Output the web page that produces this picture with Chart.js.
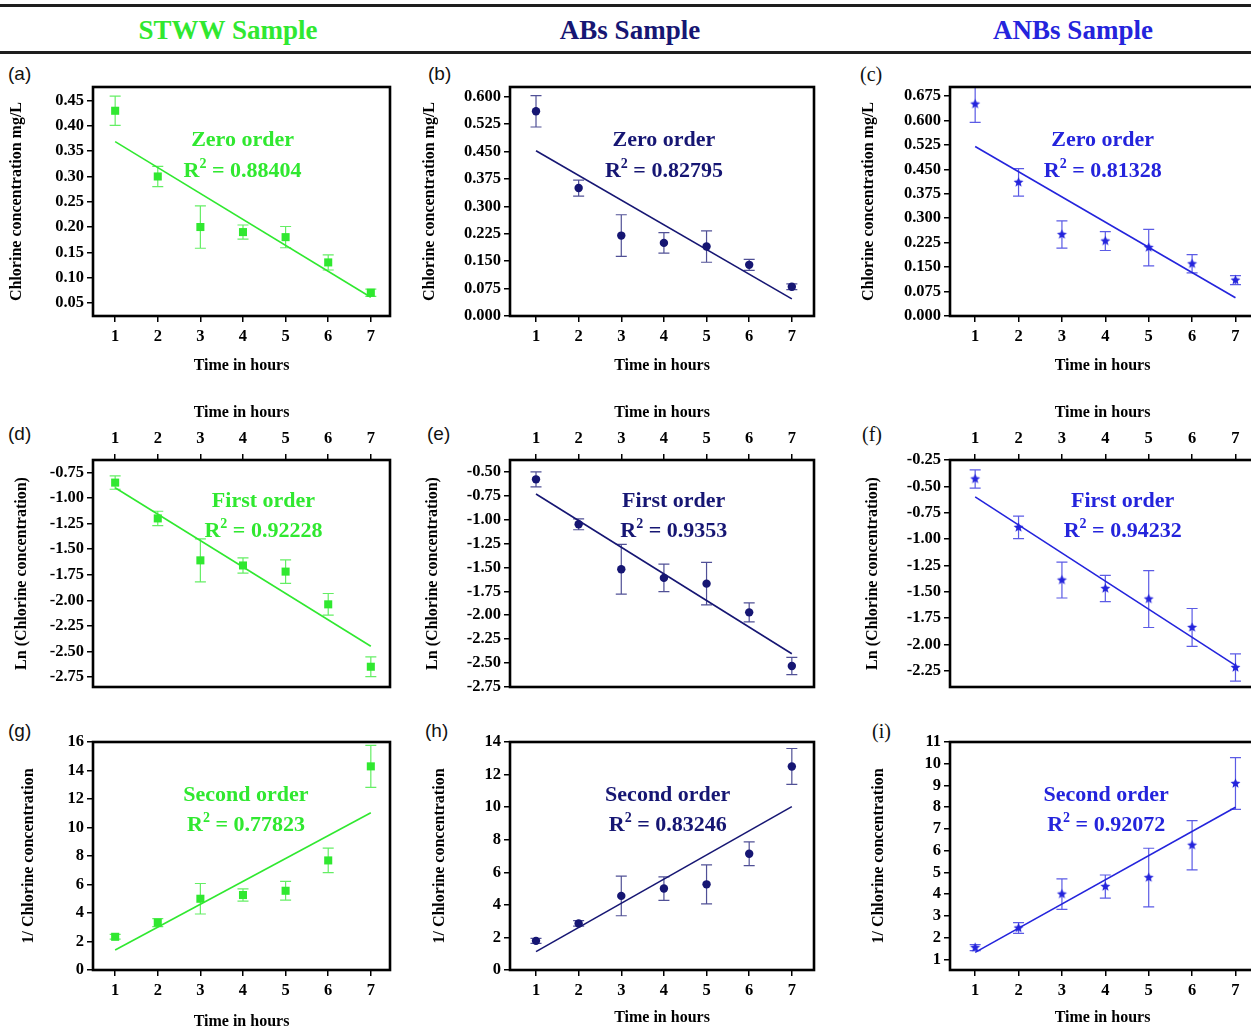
<!DOCTYPE html>
<html>
<head>
<meta charset="utf-8">
<script src="https://cdn.jsdelivr.net/npm/chart.js@4"></script>
<style>
  body { margin: 0; width: 1251px; height: 1031px; overflow: hidden; background: #fff; position: relative; }
  .rule { position: absolute; left: 0; width: 1251px; height: 3px; background: #1e1e1e; }
  .head { position: absolute; top: 15px; width: 400px; text-align: center; font: bold 27px "Liberation Serif", serif; }
  .tag { position: absolute; font: 19px "Liberation Sans", sans-serif; color: #111; }
  .tag.serif { font: 20px "Liberation Serif", serif; }
  .panel { position: absolute; }
</style>
</head>
<body>
<div class="rule" style="top:4px"></div>
<div class="rule" style="top:51px"></div>
<div id="heads"></div>
<div id="panels"></div>

<script>
const hours = [1, 2, 3, 4, 5, 6, 7];
const fitHours = [1, 7];

// zero order (concentration mg/L)
const stwwZero = [0.43, 0.30, 0.20, 0.19, 0.18, 0.13, 0.07];
const stwwZeroErr = [0.029, 0.02, 0.042, 0.014, 0.021, 0.015, 0.007];
const stwwZeroFit = [0.369, 0.061];
const absZero = [0.56, 0.35, 0.22, 0.20, 0.19, 0.14, 0.08];
const absZeroErr = [0.043, 0.022, 0.057, 0.028, 0.043, 0.015, 0.008];
const absZeroFit = [0.452, 0.047];
const anbsZero = [0.65, 0.41, 0.25, 0.23, 0.21, 0.16, 0.11];
const anbsZeroErr = [0.056, 0.042, 0.042, 0.029, 0.056, 0.028, 0.014];
const anbsZeroFit = [0.52, 0.056];

// first order (ln)
const stwwFirst = [-0.85, -1.20, -1.61, -1.66, -1.72, -2.04, -2.65];
const stwwFirstErr = [0.065, 0.07, 0.21, 0.074, 0.115, 0.106, 0.097];
const stwwFirstFit = [-0.90, -2.45];
const absFirst = [-0.58, -1.05, -1.52, -1.61, -1.67, -1.97, -2.53];
const absFirstErr = [0.078, 0.057, 0.26, 0.143, 0.222, 0.1, 0.09];
const absFirstFit = [-0.733, -2.403];
const anbsFirst = [-0.43, -0.89, -1.39, -1.47, -1.57, -1.84, -2.22];
const anbsFirstErr = [0.087, 0.107, 0.17, 0.125, 0.27, 0.18, 0.13];
const anbsFirstFit = [-0.60, -2.20];

// second order (1/C)
const stwwSecond = [2.33, 3.33, 5.0, 5.26, 5.56, 7.69, 14.29];
const stwwSecondErr = [0.17, 0.28, 1.07, 0.43, 0.66, 0.86, 1.48];
const stwwSecondFit = [1.40, 11.04];
const absSecond = [1.79, 2.86, 4.55, 5.0, 5.26, 7.14, 12.5];
const absSecondErr = [0.15, 0.17, 1.22, 0.72, 1.2, 0.73, 1.1];
const absSecondFit = [1.13, 10.03];
const anbsSecond = [1.54, 2.44, 4.0, 4.35, 4.76, 6.25, 9.09];
const anbsSecondErr = [0.14, 0.25, 0.7, 0.53, 1.35, 1.13, 1.19];
const anbsSecondFit = [1.32, 8.0];

// y tick labels
const ticksZeroStww = [0.05, 0.10, 0.15, 0.20, 0.25, 0.30, 0.35, 0.40, 0.45];
const ticksZeroAbs = [0, 0.075, 0.15, 0.225, 0.3, 0.375, 0.45, 0.525, 0.6];
const ticksZeroAnbs = [0, 0.075, 0.15, 0.225, 0.3, 0.375, 0.45, 0.525, 0.6, 0.675];
const ticksFirstStww = [-2.75, -2.5, -2.25, -2, -1.75, -1.5, -1.25, -1, -0.75];
const ticksFirstAbs = [-2.75, -2.5, -2.25, -2, -1.75, -1.5, -1.25, -1, -0.75, -0.5];
const ticksFirstAnbs = [-2.25, -2, -1.75, -1.5, -1.25, -1, -0.75, -0.5, -0.25];
const ticksSecondStww = [0, 2, 4, 6, 8, 10, 12, 14, 16];
const ticksSecondAbs = [0, 2, 4, 6, 8, 10, 12, 14];
const ticksSecondAnbs = [1, 2, 3, 4, 5, 6, 7, 8, 9, 10, 11];

const samples = ['STWW Sample', 'ABs Sample', 'ANBs Sample'];
const orders = ['Zero order', 'First order', 'Second order'];
const yTitles = ['Chlorine concentration mg/L', 'Ln (Chlorine concentration)', '1/ Chlorine concentration'];
const r2Zero = ['0.88404', '0.82795', '0.81328'];
const r2First = ['0.92228', '0.9353', '0.94232'];
const r2Second = ['0.77823', '0.83246', '0.92072'];
const tags = [['(a)', '(b)', '(c)'], ['(d)', '(e)', '(f)'], ['(g)', '(h)', '(i)']];

const colors = ['#30e830', '#161673', '#2424dc'];
const SERIF = '"Liberation Serif", serif';

// rows: order, cols: sample
const values = [[stwwZero, absZero, anbsZero], [stwwFirst, absFirst, anbsFirst], [stwwSecond, absSecond, anbsSecond]];
const errors = [[stwwZeroErr, absZeroErr, anbsZeroErr], [stwwFirstErr, absFirstErr, anbsFirstErr], [stwwSecondErr, absSecondErr, anbsSecondErr]];
const fits = [[stwwZeroFit, absZeroFit, anbsZeroFit], [stwwFirstFit, absFirstFit, anbsFirstFit], [stwwSecondFit, absSecondFit, anbsSecondFit]];
const yTicks = [[ticksZeroStww, ticksZeroAbs, ticksZeroAnbs], [ticksFirstStww, ticksFirstAbs, ticksFirstAnbs], [ticksSecondStww, ticksSecondAbs, ticksSecondAnbs]];
const r2s = [r2Zero, r2First, r2Second];

// layout
const cols = [
  { left: 0, width: 410, yW: 93, xMin: 0.48, xMax: 7.45, padR: 20 },
  { left: 415, width: 420, yW: 95, xMin: 0.39, xMax: 7.52, padR: 21 },
  { left: 850, width: 420, yW: 100, xMin: 0.42, xMax: 7.45, padR: 15 }
];
const rows = [
  { top: 60, height: 330, padT: 27, padB: 0, xPos: 'bottom', xH: 74, dy: [53, 84], tagTop: 63 },
  { top: 395, height: 305, padT: 0, padB: 13, xPos: 'top', xH: 65, dy: [41, 71], tagTop: 423 },
  { top: 700, height: 331, padT: 42, padB: 0, xPos: 'bottom', xH: 61, dy: [53, 83], tagTop: 720 }
];
const yRange = [
  [[0.024, 0.477], [0, 0.6265], [0, 0.7025]],
  [[-2.848, -0.629], [-2.75, -0.378], [-2.405, -0.25]],
  [[0, 16], [0, 14], [0.508, 11]]
];
const decimals = [[2, 3, 3], [2, 2, 2], [0, 0, 0]];
const yTitlePad = [[7.4, 5.4, 9.7], [12.1, 8.7, 13.1], [19.7, 15.4, 19.7]];
const xTitlePad = [
  [{ top: 0, bottom: 15 }, { top: 0, bottom: 15 }, { top: 0, bottom: 15 }],
  [{ top: 8.4, bottom: 0 }, { top: 8.4, bottom: 0 }, { top: 8.4, bottom: 0 }],
  [{ top: 0, bottom: 0 }, { top: 0, bottom: 3.4 }, { top: 0, bottom: 3.4 }]
];
const annotAt = [[3.99, 4.0, 3.94], [4.48, 4.23, 4.40], [4.07, 4.09, 4.02]];
const tagLeft = [[8, 428, 860], [8, 427, 862], [8, 425, 872]];

function starCanvas(color, r) {
  const c = document.createElement('canvas');
  const s = Math.ceil(r * 2 + 2);
  c.width = c.height = s;
  const g = c.getContext('2d');
  g.fillStyle = color;
  g.beginPath();
  for (let k = 0; k < 10; k++) {
    const rad = k % 2 ? r * 0.45 : r;
    const a = -Math.PI / 2 + k * Math.PI / 5;
    g.lineTo(s / 2 + rad * Math.cos(a), s / 2 + rad * Math.sin(a));
  }
  g.closePath();
  g.fill();
  return c;
}

function markerFor(col) {
  if (col === 0) return { pointStyle: 'rect', pointRadius: 5.7 };
  if (col === 1) return { pointStyle: 'circle', pointRadius: 4.2 };
  return { pointStyle: starCanvas(colors[2], 5.2), pointRadius: 6 };
}

const errorBars = {
  id: 'errorBars',
  beforeDatasetsDraw(chart, args, o) {
    const { ctx, chartArea } = chart;
    const x = chart.scales.x, y = chart.scales.y;
    ctx.save();
    ctx.beginPath();
    ctx.rect(chartArea.left, chartArea.top, chartArea.right - chartArea.left, chartArea.bottom - chartArea.top);
    ctx.clip();
    ctx.strokeStyle = o.color;
    ctx.globalAlpha = 0.75;
    ctx.lineWidth = 1.2;
    o.vals.forEach((v, i) => {
      const px = x.getPixelForValue(hours[i]);
      const t = y.getPixelForValue(v + o.err[i]);
      const b = y.getPixelForValue(v - o.err[i]);
      ctx.beginPath();
      ctx.moveTo(px, t); ctx.lineTo(px, b);
      ctx.moveTo(px - 5.5, t); ctx.lineTo(px + 5.5, t);
      ctx.moveTo(px - 5.5, b); ctx.lineTo(px + 5.5, b);
      ctx.stroke();
    });
    ctx.restore();
  }
};

const frame = {
  id: 'frame',
  afterDraw(chart) {
    const { ctx, chartArea } = chart;
    ctx.save();
    ctx.strokeStyle = '#000';
    ctx.lineWidth = 2.6;
    ctx.strokeRect(chartArea.left, chartArea.top, chartArea.right - chartArea.left, chartArea.bottom - chartArea.top);
    ctx.restore();
  }
};

const annot = {
  id: 'annot',
  afterDraw(chart, args, o) {
    const { ctx, chartArea } = chart;
    const cx = chart.scales.x.getPixelForValue(o.at);
    const big = 'bold 22px ' + SERIF, small = 'bold 14px ' + SERIF;
    ctx.save();
    ctx.fillStyle = o.color;
    ctx.textBaseline = 'middle';
    ctx.font = big;
    ctx.textAlign = 'center';
    ctx.fillText(o.title, cx, chartArea.top + o.dy[0]);
    const y2 = chartArea.top + o.dy[1];
    const rest = ' = ' + o.r2;
    const wR = ctx.measureText('R').width, wRest = ctx.measureText(rest).width;
    ctx.font = small;
    const w2 = ctx.measureText('2').width;
    let sx = cx - (wR + w2 + wRest) / 2;
    ctx.textAlign = 'left';
    ctx.font = big;
    ctx.fillText('R', sx, y2);
    ctx.font = small;
    ctx.fillText('2', sx + wR, y2 - 7);
    ctx.font = big;
    ctx.fillText(rest, sx + wR + w2, y2);
    ctx.restore();
  }
};

const heads = document.getElementById('heads');
[28, 430, 873].forEach((l, c) => {
  const d = document.createElement('div');
  d.className = 'head';
  d.style.left = l + 'px';
  d.style.color = colors[c];
  d.textContent = samples[c];
  heads.appendChild(d);
});

const holder = document.getElementById('panels');
const tickFont = { family: SERIF, weight: 'bold', size: 16.5 };
const xTitleFont = { family: SERIF, weight: 'bold', size: 16 };
const yTitleFont = { family: SERIF, weight: 'bold', size: 16 };

rows.forEach((row, r) => {
  cols.forEach((col, c) => {
    const tag = document.createElement('div');
    tag.className = c === 2 ? 'tag serif' : 'tag';
    tag.style.left = tagLeft[r][c] + 'px';
    tag.style.top = row.tagTop + 'px';
    tag.textContent = tags[r][c];
    holder.appendChild(tag);

    const cv = document.createElement('canvas');
    cv.className = 'panel';
    cv.width = col.width;
    cv.height = row.height;
    cv.style.left = col.left + 'px';
    cv.style.top = row.top + 'px';
    holder.appendChild(cv);

    const vals = values[r][c];
    const dec = decimals[r][c];
    const ticksY = yTicks[r][c];

    new Chart(cv, {
      type: 'scatter',
      data: {
        datasets: [
          Object.assign({
            data: hours.map((h, i) => ({ x: h, y: vals[i] })),
            backgroundColor: colors[c],
            borderWidth: 0,
            pointHoverRadius: 0
          }, markerFor(c)),
          {
            data: fitHours.map((h, i) => ({ x: h, y: fits[r][c][i] })),
            showLine: true,
            borderColor: colors[c],
            borderWidth: 1.6,
            pointRadius: 0
          }
        ]
      },
      options: {
        responsive: false,
        animation: false,
        layout: { padding: { top: row.padT, bottom: row.padB, left: 0, right: col.padR } },
        plugins: {
          legend: { display: false },
          tooltip: { enabled: false },
          errorBars: { vals: vals, err: errors[r][c], color: colors[c] },
          annot: { at: annotAt[r][c], dy: row.dy, title: orders[r], r2: r2s[r][c], color: colors[c] }
        },
        scales: {
          x: {
            type: 'linear',
            position: row.xPos,
            min: col.xMin,
            max: col.xMax,
            afterBuildTicks: ax => { ax.ticks = hours.map(v => ({ value: v })); },
            afterFit: ax => { ax.height = row.xH; },
            ticks: { font: tickFont, color: '#000', padding: 5, maxRotation: 0 },
            grid: { drawOnChartArea: false, drawTicks: true, tickLength: 6, color: '#000', lineWidth: 1.5 },
            border: { display: false },
            title: { display: true, text: 'Time in hours', color: '#000', font: xTitleFont, padding: xTitlePad[r][c] }
          },
          y: {
            type: 'linear',
            min: yRange[r][c][0],
            max: yRange[r][c][1],
            afterBuildTicks: ax => { ax.ticks = ticksY.map(v => ({ value: v })); },
            afterFit: ax => { ax.width = col.yW; },
            ticks: { font: tickFont, color: '#000', padding: 3, callback: v => Number(v).toFixed(dec) },
            grid: { drawOnChartArea: false, drawTicks: true, tickLength: 6, color: '#000', lineWidth: 1.5 },
            border: { display: false },
            title: { display: true, text: yTitles[r], color: '#000', font: yTitleFont, padding: { top: yTitlePad[r][c], bottom: 0 } }
          }
        }
      },
      plugins: [errorBars, frame, annot]
    });
  });
});
</script>
</body>
</html>
